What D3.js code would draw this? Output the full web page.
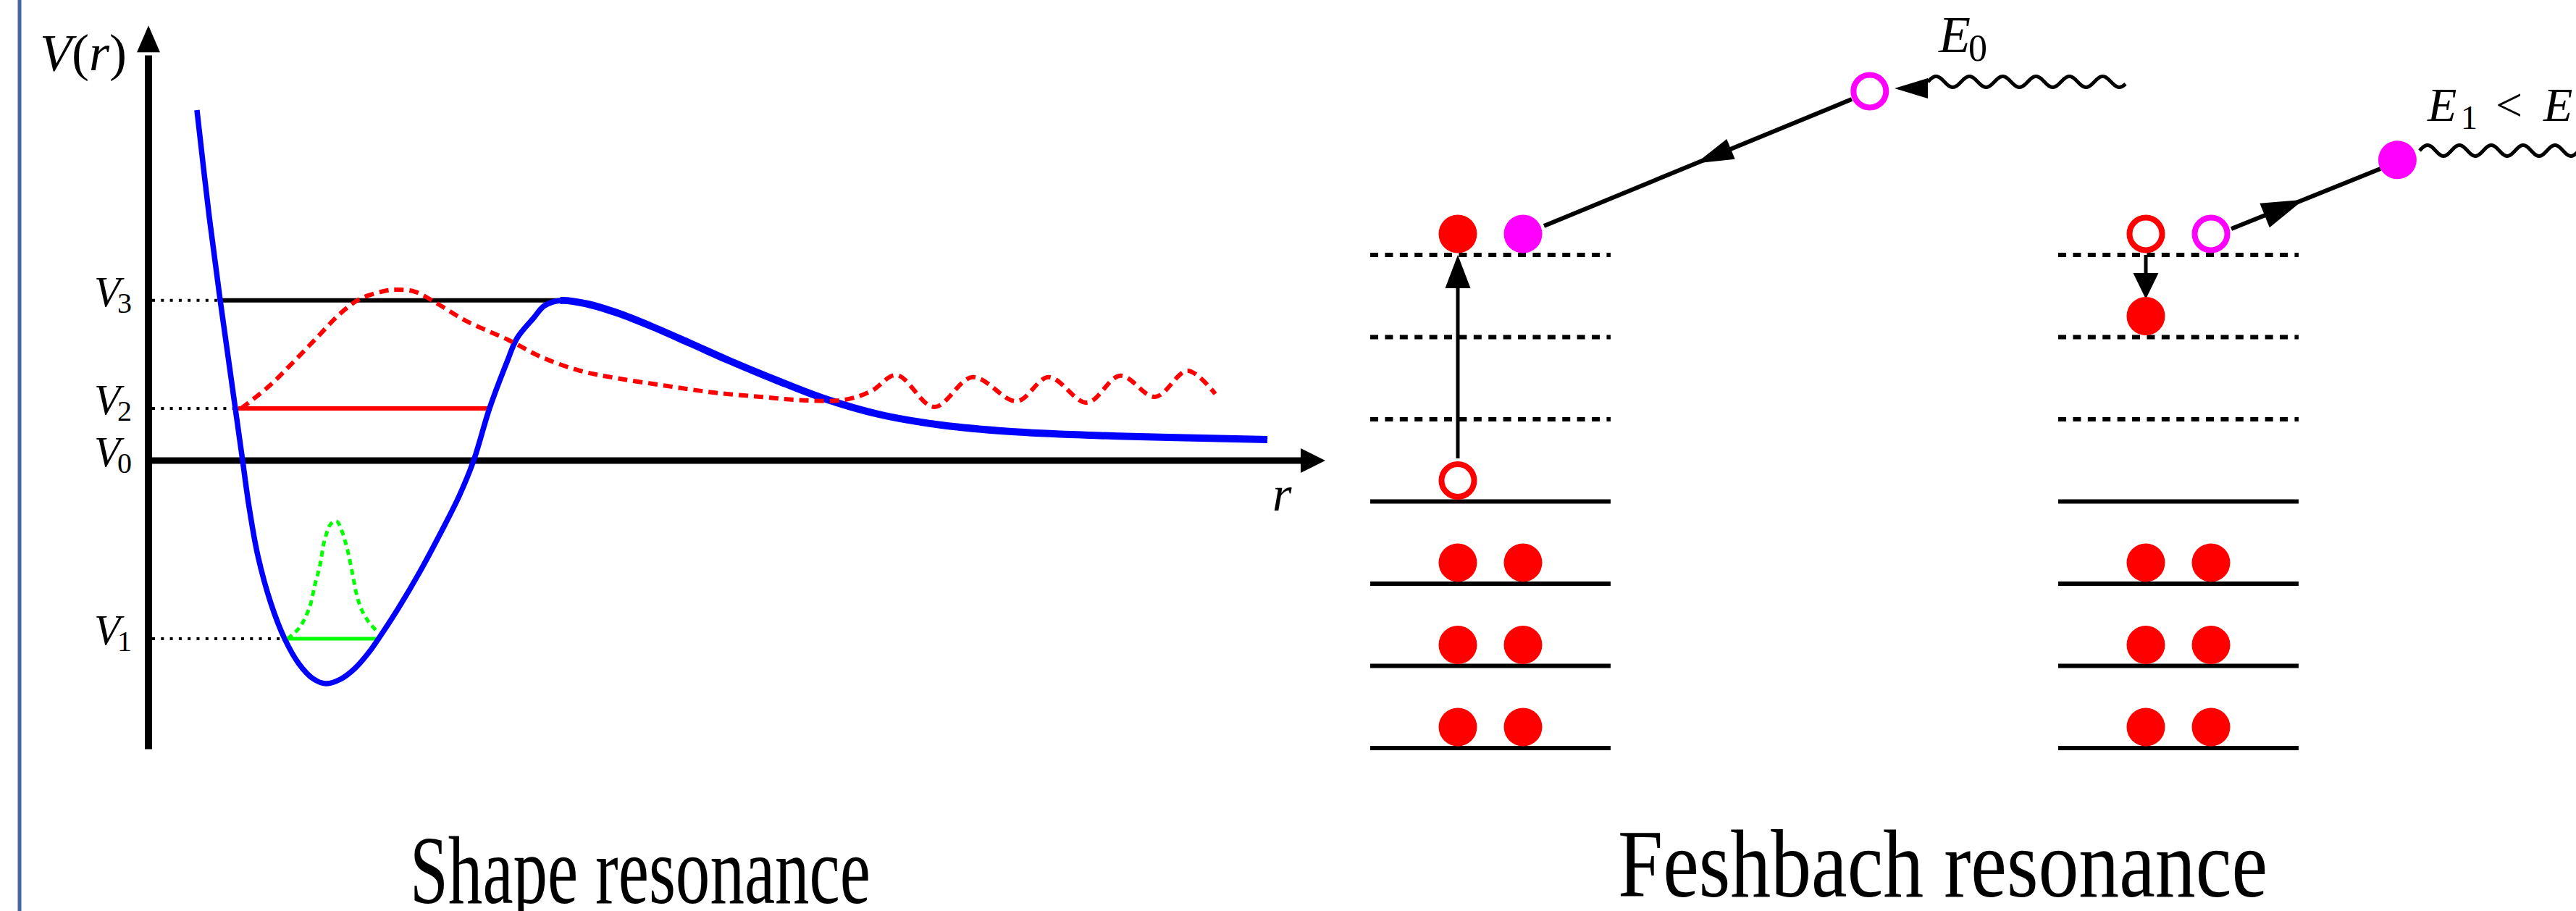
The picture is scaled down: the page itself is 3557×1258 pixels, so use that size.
<!DOCTYPE html>
<html>
<head>
<meta charset="utf-8">
<script src="https://cdn.jsdelivr.net/npm/d3@7"></script>
<style>
html,body{margin:0;padding:0;background:#fff;overflow:hidden}
svg{display:block}
</style>
</head>
<body>
<svg id="chart" width="3557" height="1258"></svg>
<script>
// ---------------- DATA ----------------
// Shape resonance: potential V(r), [r, V]
const potentialCurve = [
  [0.412,12.10],[0.517,8.40],[0.609,5.55],[0.683,3.40],[0.738,1.80],[0.800,0.00],
  [0.855,-1.60],[0.929,-3.275],[1.040,-4.925],[1.157,-6.15],[1.280,-7.025],[1.397,-7.525],
  [1.508,-7.70],[1.631,-7.55],[1.754,-7.175],[1.877,-6.60],[1.963,-6.10],[2.123,-5.10],
  [2.308,-3.825],[2.492,-2.425],[2.640,-1.225],[2.763,0.00],[2.898,1.80],[3.046,3.40],
  [3.132,4.225],[3.268,4.90],[3.366,5.35],[3.502,5.525],[3.735,5.40],[4.000,5.075],
  [4.265,4.65],[4.603,4.05],[4.935,3.45],[5.335,2.775],[5.735,2.15],[6.203,1.60],
  [6.738,1.225],[7.335,1.00],[8.006,0.875],[8.671,0.80],[9.508,0.725]
];
const tailStartR = 3.50;
// quasi-bound wavefunction at V2, [r, V]
const resonantWave = [
  [0.788,1.80],[1.028,2.58],[1.231,3.40],[1.428,4.23],[1.631,5.08],[1.797,5.58],
  [2.000,5.85],[2.098,5.90],[2.265,5.83],[2.462,5.40],[2.695,4.83],[3.065,4.15],
  [3.335,3.58],[3.668,3.10],[4.000,2.83],[4.400,2.58],[4.800,2.35],[5.200,2.20],
  [5.563,2.08],[5.920,2.10],[6.142,2.40],[6.357,2.95],[6.677,1.85],[7.003,2.88],
  [7.378,2.05],[7.649,2.88],[7.975,2.00],[8.258,2.93],[8.554,2.20],[8.831,3.10],[9.065,2.30]
];
// bound state wavefunction at V1, [r, V]
const boundWave = [
  [1.182,-6.15],[1.280,-5.78],[1.366,-5.10],[1.415,-4.28],[1.458,-3.60],[1.495,-2.78],
  [1.551,-2.18],[1.600,-2.10],[1.643,-2.43],[1.692,-3.10],[1.735,-3.93],[1.772,-4.68],
  [1.815,-5.18],[1.877,-5.60],[1.951,-5.93]
];
// energy levels
const levelSubs   = ["3", "2", "0", "1"];
const levelValues = [5.53, 1.80, 0.00, -6.15];
const levelFromR  = [0.61, 0.76, NaN, 1.170];
const levelToR    = [3.52, 2.898, NaN, 1.957];

// Feshbach resonance: shells (level index), particles [level, slot, filled]
const boundShells   = [0, 1, 2, 3];
const virtualShells = [4, 5, 6];
const coreBefore = [[0,0,1],[0,1,1],[1,0,1],[1,1,1],[2,0,1],[2,1,1],[3,0,0],[6,0,1]];
const projBefore = [[7.736,6.32,0],[6,1,1]];
const coreAfter  = [[0,0,1],[0,1,1],[1,0,1],[1,1,1],[2,0,1],[2,1,1],[6,0,0],[5,0,1]];
const projAfter  = [[6,1,0],[6.90,3.86,1]];
// transitions: [fromLevel, fromSlot, toLevel, toSlot, arrowAt]
const jumpsBefore = [[3.524,0,6,0,1],[7.894,6.044,6.352,1.322,0.506]];
const jumpsAfter  = [[6,0,5.463,0,1],[6.317,1.311,7.048,3.6,0.485]];
// photons: [level, fromSlot, toSlot]
const photonBefore = [8.106, 7.21, 10.244];
const photonAfter  = [7.269, 4.20, 7.20];
const photonArrowBefore = [8.026, 6.70];
const labelBefore = [8.467, 7.378];
const labelAfter  = [7.630, 4.322];
const titles = ["Shape resonance", "Feshbach resonance"];

// ---------------- DRAW ----------------
const FONT = "'Liberation Serif', 'Times New Roman', Tinos, serif";
const svg = d3.select("#chart");
const RED = "#ff0000", MAG = "#ff00ff", BLUE = "#0000ff", GREEN = "#00ff00";

// frame line on the left
svg.append("rect").attr("x",24.5).attr("y",0).attr("width",5).attr("height",1258).attr("fill","#4267a0");

function tri(tip, ux, uy, len, half){
  const bx = tip[0]-ux*len, by = tip[1]-uy*len, px = -uy, py = ux;
  return `M${tip[0]},${tip[1]}L${bx+px*half},${by+py*half}L${bx-px*half},${by-py*half}Z`;
}
function txt(xp, yp, size){
  return svg.append("text").attr("x",xp).attr("y",yp).attr("font-size",size)
    .attr("font-family",FONT).attr("fill","#000");
}

// ---- left panel ----
const x = d3.scaleLinear().domain([0,10]).range([205,1830]);
const y = d3.scaleLinear().domain([-10,15]).range([1036,36]);

const yAxisScale = y.copy().domain([-9.95,14.0]).range([y(-9.95), y(14.0)]);
svg.append("g").attr("transform",`translate(${x(0)-0.5},0)`)
  .call(d3.axisLeft(yAxisScale).tickValues([]).tickSizeOuter(0))
  .call(g=>g.select(".domain").attr("stroke","#000").attr("stroke-width",10));
svg.append("path").attr("d",tri([x(0),y(15.02)],0,-1,37,16)).attr("fill","#000");

const xAxisScale = x.copy().domain([0,9.79]).range([x(0), x(9.79)]);
svg.append("g").attr("transform",`translate(0,${y(0)-0.5})`)
  .call(d3.axisBottom(xAxisScale).tickValues([]).tickSizeOuter(0))
  .call(g=>g.select(".domain").attr("stroke","#000").attr("stroke-width",9));
svg.append("path").attr("d",tri([x(10),y(0)],1,0,34,17)).attr("fill","#000");

// axis labels
const vr = txt(55, 97, 72);
vr.append("tspan").attr("font-style","italic").text("V");
vr.append("tspan").text("(");
vr.append("tspan").attr("font-style","italic").text("r");
vr.append("tspan").text(")");
txt(1757, 705, 68).attr("font-style","italic").text("r");

// levels
const levelColors = ["#000", RED, null, GREEN];
const levelWidths = [6, 6, 0, 5];
levelValues.forEach((v,i)=>{
  if (!isNaN(levelFromR[i])) {
    svg.append("line").attr("x1",x(0)+5).attr("x2",x(levelFromR[i])).attr("y1",y(v)).attr("y2",y(v))
      .attr("stroke","#000").attr("stroke-width",4).attr("stroke-dasharray","4,8.3");
    svg.append("line").attr("x1",x(levelFromR[i])).attr("x2",x(levelToR[i])).attr("y1",y(v)).attr("y2",y(v))
      .attr("stroke",levelColors[i]).attr("stroke-width",levelWidths[i]);
  }
  const t = txt(130, y(v)+8, 59);
  t.append("tspan").attr("font-style","italic").text("V");
  t.append("tspan").attr("font-size",40).attr("dx",-4).attr("dy",9).text(levelSubs[i]);
});

const line = d3.line().x(d=>x(d[0])).y(d=>y(d[1])).curve(d3.curveCatmullRom.alpha(0.5));
const potD = line(potentialCurve);
svg.append("clipPath").attr("id","tailclip").append("rect")
  .attr("x",x(tailStartR)).attr("y",0).attr("width",x(10)-x(tailStartR)).attr("height",y(-10));
svg.append("path").attr("d",potD).attr("fill","none").attr("stroke",BLUE).attr("stroke-width",7.5);
svg.append("path").attr("d",potD).attr("fill","none").attr("stroke",BLUE).attr("stroke-width",10)
  .attr("clip-path","url(#tailclip)");
svg.append("path").attr("d",line(resonantWave)).attr("fill","none").attr("stroke",RED)
  .attr("stroke-width",6).attr("stroke-dasharray","13,8");
svg.append("path").attr("d",line(boundWave)).attr("fill","none").attr("stroke",GREEN)
  .attr("stroke-width",5).attr("stroke-dasharray","8,6");

// ---- Feshbach panel ----
const yf = d3.scaleLinear().domain([0,6]).range([1033,352]);
const xfs = [d3.scaleLinear().domain([0,1]).range([2013,2103]),
             d3.scaleLinear().domain([0,1]).range([2963,3053])];
const shellSpan = [-1.344, 2.344];
const R = 26.5, SIT = 29;

function wave(x0, x1, yc, period, amp){
  const pts = [];
  for (let xx = x0; xx <= x1; xx += 1.5) pts.push([xx, yc - amp*Math.sin(2*Math.PI*(xx-x0)/period)]);
  return d3.line()(pts);
}

function drawGroup(xf, cores, projs, jumps, photon, period){
  boundShells.forEach(l=>{
    svg.append("line").attr("x1",xf(shellSpan[0])).attr("x2",xf(shellSpan[1]))
      .attr("y1",yf(l)).attr("y2",yf(l)).attr("stroke","#000").attr("stroke-width",6);
  });
  virtualShells.forEach(l=>{
    svg.append("line").attr("x1",xf(shellSpan[0])).attr("x2",xf(shellSpan[1]))
      .attr("y1",yf(l)).attr("y2",yf(l)).attr("stroke","#000").attr("stroke-width",6)
      .attr("stroke-dasharray","11,9.4");
  });
  jumps.forEach(j=>{
    const p0 = [xf(j[1]), yf(j[0])], p1 = [xf(j[3]), yf(j[2])];
    const dx = p1[0]-p0[0], dy = p1[1]-p0[1], L = Math.hypot(dx,dy), ux = dx/L, uy = dy/L;
    const tip = [p0[0]+dx*j[4], p0[1]+dy*j[4]];
    const vertical = Math.abs(ux) < 0.01;
    const len = vertical ? (uy<0 ? 46 : 36) : (ux<0 ? 52 : 58);
    const half = vertical ? 17.5 : (ux<0 ? 15 : 18);
    const lineEnd = j[4] >= 1 ? [tip[0]-ux*(len-4), tip[1]-uy*(len-4)] : p1;
    svg.append("line").attr("x1",p0[0]).attr("y1",p0[1]).attr("x2",lineEnd[0]).attr("y2",lineEnd[1])
      .attr("stroke","#000").attr("stroke-width",vertical?5:6);
    svg.append("path").attr("d",tri(tip,ux,uy,len,half)).attr("fill","#000");
  });
  const drawP = (arr, color)=>arr.forEach(p=>{
    const c = svg.append("circle").attr("cx",xf(p[1])).attr("cy",yf(p[0])-SIT);
    if (p[2]) c.attr("r",R).attr("fill",color);
    else c.attr("r",R-4).attr("fill","#fff").attr("stroke",color).attr("stroke-width",8);
  });
  drawP(cores, RED);
  drawP(projs, MAG);
  svg.append("path").attr("d",wave(xf(photon[1]), xf(photon[2]), yf(photon[0]), period, 7.5))
    .attr("fill","none").attr("stroke","#000").attr("stroke-width",5).attr("stroke-linejoin","round");
}

drawGroup(xfs[0], coreBefore, projBefore, jumpsBefore, photonBefore, 46);
svg.append("path").attr("d",tri([xfs[0](photonArrowBefore[1]), yf(photonArrowBefore[0])],-1,0,46,14)).attr("fill","#000");
drawGroup(xfs[1], coreAfter, projAfter, jumpsAfter, photonAfter, 44);

// E0 label
const e0 = txt(xfs[0](labelBefore[1]), yf(labelBefore[0]), 72);
e0.append("tspan").attr("font-style","italic").text("E");
e0.append("tspan").attr("font-size",52).attr("dx",-3).attr("dy",12).text("0");
// E1 < E0 label
const lx = xfs[1](labelAfter[1]), ly = yf(labelAfter[0]);
const e1 = txt(lx, ly, 66);
e1.append("tspan").attr("font-style","italic").text("E");
e1.append("tspan").attr("x",lx+46).attr("font-size",46).attr("dy",11).text("1");
e1.append("tspan").attr("x",lx+94).attr("dy",-11).text("<");
e1.append("tspan").attr("x",lx+160).attr("font-style","italic").text("E");
e1.append("tspan").attr("x",lx+206).attr("font-size",46).attr("dy",11).text("0");

// titles
txt(566, 1247, 134).attr("textLength",636).attr("lengthAdjust","spacingAndGlyphs").text(titles[0]);
txt(2234, 1238, 134).attr("textLength",897).attr("lengthAdjust","spacingAndGlyphs").text(titles[1]);
</script>
</body>
</html>
